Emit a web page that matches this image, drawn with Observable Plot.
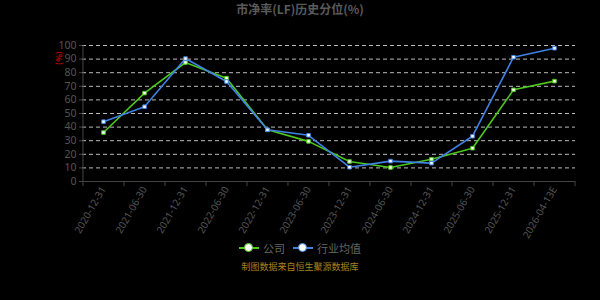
<!DOCTYPE html>
<html><head><meta charset="utf-8">
<script src="https://cdn.jsdelivr.net/npm/d3@7"></script>
<script src="https://cdn.jsdelivr.net/npm/@observablehq/plot@0.6"></script>
<style>
body{margin:0;background:#000;}
#wrap{position:relative;width:600px;height:300px;background:#000;overflow:hidden;font-family:"Noto Sans CJK SC","Noto Sans",sans-serif;}
#title{position:absolute;top:0;left:0;width:600px;text-align:center;font-size:12px;font-weight:bold;color:#5a5a5a;line-height:18px;}
#unit{position:absolute;left:51px;top:52px;width:15px;height:12px;line-height:12px;text-align:center;transform:rotate(-90deg);transform-origin:center;font-size:8px;font-weight:bold;color:#c00000;}
#legend{position:absolute;top:236px;left:0;width:600px;text-align:center;font-size:11px;color:#666;}
#legend span{display:inline-flex;align-items:center;margin:0 4px;}
#legend i{display:inline-block;position:relative;width:20px;height:2px;margin-right:4px;}
#legend i b{position:absolute;left:5px;top:-4px;width:7px;height:7px;border-radius:50%;background:#fff;border:1.5px solid;}
#footer{position:absolute;top:260px;left:0;width:600px;text-align:center;font-size:9px;color:#a8801e;}
</style></head>
<body><div id="wrap">
<div id="title">市净率(LF)历史分位(%)</div>
<div id="chart"></div>
<div id="unit">(%)</div>
<div id="legend"></div>
<div id="footer">制图数据来自恒生聚源数据库</div>
</div>
<script>
const categories = ["2020-12-31","2021-06-30","2021-12-31","2022-06-30","2022-12-31","2023-06-30","2023-12-31","2024-06-30","2024-12-31","2025-06-30","2025-12-31","2026-04-13E"];
const companyValues = [36, 65, 87.5, 76, 38, 29.5, 14.7, 10.3, 16.4, 24.5, 67.4, 73.8];
const industryValues = [44, 55, 90.4, 73.5, 38, 34, 10.5, 15, 13.5, 33.3, 91.4, 98];
const seriesNames = ["公司", "行业均值"];
const yTicks = [0,10,20,30,40,50,60,70,80,90,100];
const colors = ["#4cc81c", "#3f82e6"];

const data = [];
categories.forEach((c,i)=>{
  data.push({date:c, value:companyValues[i], series:seriesNames[0]});
  data.push({date:c, value:industryValues[i], series:seriesNames[1]});
});

const W=600, H=300, mL=82, mR=25, mT=45, mB=119;
const step = (W-mL-mR)/categories.length;

const chart = Plot.plot({
  width:W, height:H,
  marginLeft:mL, marginRight:mR, marginTop:mT, marginBottom:mB,
  style:{background:"transparent", color:"#555", fontFamily:"'Noto Sans','DejaVu Sans',sans-serif"},
  x:{type:"point", domain:categories, padding:0.5, align:0.5},
  y:{domain:[0,100]},
  color:{domain:seriesNames, range:colors},
  marks:[
    Plot.ruleY(yTicks.filter(d=>d>0), {stroke:"#bbbbbb", strokeDasharray:"4,3", strokeWidth:1}),
    Plot.ruleX([0], {x:()=>categories[0], dx:-step/2, stroke:"#444", strokeWidth:1}),
    Plot.ruleY([0], {stroke:"#444", strokeWidth:1}),
    Plot.ruleX(categories, {x:d=>d, dx:-step/2, stroke:"#444", insetTop:H-mT-mB, insetBottom:-5}),
    Plot.ruleX([categories[categories.length-1]], {x:d=>d, dx:step/2, stroke:"#444", insetTop:H-mT-mB, insetBottom:-5}),
    Plot.axisY({ticks:yTicks, tickSize:3, tickPadding:3, fontSize:10.5, stroke:"#444", label:null}),
    Plot.axisX({tickSize:0, tickRotate:-60, tickPadding:6, fontSize:10, label:null}),
    Plot.line(data, {x:"date", y:"value", z:"series", stroke:"series", strokeWidth:1.6}),
    Plot.dot(data, {x:"date", y:"value", fill:"#fff", stroke:"series", symbol:"square", r:2, strokeWidth:1})
  ]
});
document.getElementById("chart").appendChild(chart);

const legend = document.getElementById("legend");
seriesNames.forEach((n,i)=>{
  const s=document.createElement("span");
  s.innerHTML=`<i style="background:${colors[i]}"><b style="border-color:${colors[i]}"></b></i>${n}`;
  legend.appendChild(s);
});
</script>
</body></html>
